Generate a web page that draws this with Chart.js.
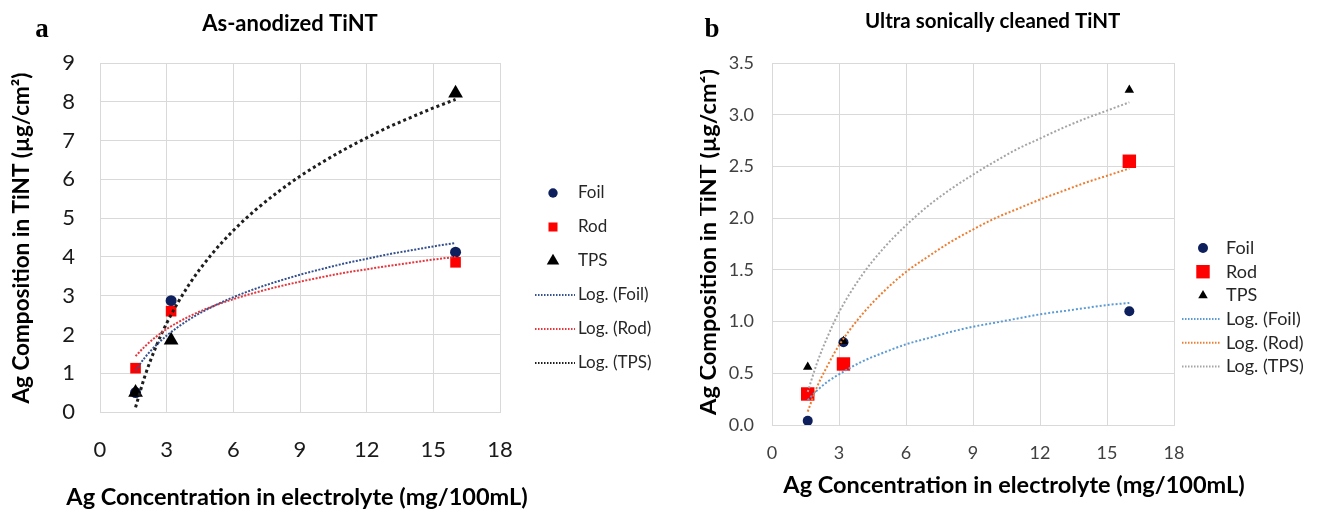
<!DOCTYPE html>
<html>
<head>
<meta charset="utf-8">
<script src="https://cdn.jsdelivr.net/npm/chart.js@4.4.1/dist/chart.umd.min.js"></script>
<style>
    body { margin: 0; background: #fff; width: 1317px; height: 513px; position: relative; overflow: hidden; }
    #panel-a { position: absolute; left: 0; top: 0; }
    #panel-b { position: absolute; left: 700px; top: 0; }
</style>
</head>
<body>
<canvas id="panel-a" width="700" height="513"></canvas>
<canvas id="panel-b" width="617" height="513"></canvas>
<script>
// Ag concentration in electrolyte (mg/100mL)
const concentration = [1.6, 3.2, 16];

// a: as-anodized TiNT
const anodizedFoil = [0.5, 2.87, 4.12];
const anodizedRod = [1.13, 2.6, 3.86];
const anodizedTps = [0.5, 1.85, 8.22];

// b: ultrasonically cleaned TiNT
const cleanedFoil = [0.04, 0.8, 1.1];
const cleanedRod = [0.3, 0.59, 2.55];
const cleanedTps = [0.56, 0.81, 3.24];

// log trendlines at these x positions
const trendX = [1.6, 2, 2.5, 3, 4, 5, 6, 7, 8, 9, 10, 11, 12, 13, 14, 15, 16];
const anodizedFoilLog = [1.07, 1.39, 1.71, 1.97, 2.38, 2.70, 2.96, 3.18, 3.37, 3.54, 3.69, 3.83, 3.95, 4.07, 4.17, 4.27, 4.36];
const anodizedRodLog = [1.44, 1.68, 1.93, 2.14, 2.46, 2.71, 2.91, 3.08, 3.23, 3.36, 3.48, 3.59, 3.68, 3.77, 3.85, 3.93, 4.00];
const anodizedTpsLog = [0.12, 0.89, 1.66, 2.29, 3.28, 4.05, 4.68, 5.21, 5.67, 6.08, 6.44, 6.77, 7.07, 7.35, 7.60, 7.84, 8.06];
const cleanedFoilLog = [0.24, 0.33, 0.42, 0.49, 0.61, 0.70, 0.78, 0.84, 0.90, 0.95, 0.99, 1.03, 1.07, 1.10, 1.13, 1.16, 1.18];
const cleanedRodLog = [0.13, 0.36, 0.58, 0.77, 1.06, 1.29, 1.48, 1.63, 1.77, 1.89, 2.00, 2.09, 2.18, 2.26, 2.34, 2.41, 2.48];
const cleanedTpsLog = [0.32, 0.59, 0.86, 1.09, 1.44, 1.71, 1.93, 2.12, 2.28, 2.42, 2.55, 2.67, 2.77, 2.87, 2.96, 3.04, 3.12];

const xTicks = [0, 3, 6, 9, 12, 15, 18];
const yTicksA = [0, 1, 2, 3, 4, 5, 6, 7, 8, 9];
const yTicksB = [0, 0.5, 1, 1.5, 2, 2.5, 3, 3.5];

const yTitle = 'Ag Composition in TiNT (µg/cm²)';
const xTitle = 'Ag Concentration in electrolyte (mg/100mL)';

const toPoints = (xs, ys) => xs.map((x, i) => ({ x, y: ys[i] }));

function marker(label, ys, style, radius, color, order) {
    return {
        label, data: toPoints(concentration, ys), showLine: false,
        pointStyle: style, pointRadius: radius, pointBackgroundColor: color,
        backgroundColor: color, pointBorderWidth: 0, order
    };
}

function trend(label, ys, color, width, dash) {
    return {
        label, data: toPoints(trendX, ys), showLine: true, pointRadius: 0,
        borderColor: color, borderWidth: width, borderDash: dash,
        cubicInterpolationMode: 'monotone', order: 0
    };
}

// legend on the right, drawn from the datasets themselves
const sideLegend = {
    id: 'sideLegend',
    afterDraw(chart, args, opts) {
        const ctx = chart.ctx;
        ctx.save();
        ctx.font = opts.font;
        ctx.textBaseline = 'middle';
        chart.data.datasets.forEach((ds, i) => {
            const y = opts.top + i * opts.gap;
            if (ds.showLine) {
                ctx.strokeStyle = ds.borderColor;
                ctx.lineWidth = Math.min(ds.borderWidth, 2);
                ctx.setLineDash([1.5, 1.5]);
                ctx.beginPath();
                ctx.moveTo(opts.lineFrom, y);
                ctx.lineTo(opts.lineTo, y);
                ctx.stroke();
                ctx.setLineDash([]);
            } else {
                ctx.fillStyle = ds.backgroundColor;
                Chart.helpers.drawPoint(ctx, {
                    pointStyle: ds.pointStyle, rotation: 0, borderWidth: 0,
                    radius: ds.pointRadius * opts.markerScale
                }, opts.markerX, y);
            }
            ctx.fillStyle = '#262626';
            ctx.fillText(ds.label, opts.textX, y);
        });
        ctx.restore();
    }
};

const panelText = {
    id: 'panelText',
    afterDraw(chart, args, opts) {
        const ctx = chart.ctx;
        opts.items.forEach(t => {
            ctx.save();
            ctx.font = t.font;
            ctx.fillStyle = '#000';
            ctx.textAlign = t.align || 'center';
            ctx.textBaseline = 'middle';
            ctx.translate(t.x, t.y);
            if (t.rotate) ctx.rotate(t.rotate);
            ctx.fillText(t.text, 0, 0);
            ctx.restore();
        });
    }
};

function buildOptions(cfg) {
    return {
        responsive: false,
        animation: false,
        layout: { padding: { top: 63, right: cfg.rightPad, left: 0, bottom: 0 } },
        plugins: {
            legend: { display: false },
            tooltip: { enabled: false },
            sideLegend: cfg.legend,
            panelText: { items: cfg.texts }
        },
        scales: {
            x: {
                type: 'linear', min: 0, max: 18,
                afterBuildTicks: s => { s.ticks = xTicks.map(v => ({ value: v })); },
                afterFit: s => { s.height = cfg.xAxisHeight; },
                grid: { color: '#d9d9d9', drawTicks: false },
                border: { color: '#d9d9d9' },
                ticks: { font: { family: 'Lato', size: cfg.tickSize }, color: cfg.tickColor, padding: cfg.xTickPad, maxRotation: 0 }
            },
            y: {
                type: 'linear', min: 0, max: cfg.yMax,
                afterBuildTicks: s => { s.ticks = cfg.yTicks.map(v => ({ value: v })); },
                afterFit: s => { s.width = cfg.yAxisWidth; },
                grid: { color: '#d9d9d9', drawTicks: false },
                border: { color: '#d9d9d9' },
                ticks: {
                    font: { family: 'Lato', size: cfg.tickSize }, color: cfg.tickColor, padding: cfg.yTickPad,
                    callback: v => cfg.yDecimals ? v.toFixed(cfg.yDecimals) : String(v)
                }
            }
        }
    };
}

new Chart(document.getElementById('panel-a'), {
    type: 'scatter',
    data: {
        datasets: [
            marker('Foil', anodizedFoil, 'circle', 5.5, '#0d1f5c', 3),
            marker('Rod', anodizedRod, 'rect', 7.5, '#ff0000', 2),
            marker('TPS', anodizedTps, 'triangle', 8.5, '#000000', 1),
            trend('Log. (Foil)', anodizedFoilLog, '#34508f', 2, [2, 1.5]),
            trend('Log. (Rod)', anodizedRodLog, '#e8343a', 2, [2, 1.5]),
            trend('Log. (TPS)', anodizedTpsLog, '#1e1e1e', 3, [3, 3])
        ]
    },
    options: buildOptions({
        rightPad: 200, xAxisHeight: 101, yAxisWidth: 100, yMax: 9, yTicks: yTicksA, yDecimals: 0,
        tickSize: 22, tickColor: '#1a1a1a', xTickPad: 25, yTickPad: 25,
        legend: { font: '17px Lato', top: 193, gap: 34, markerX: 553, textX: 578, lineFrom: 535, lineTo: 575, markerScale: 0.85 },
        texts: [
            { text: 'a', font: 'bold 27px "Liberation Serif"', x: 42, y: 30 },
            { text: 'As-anodized TiNT', font: 'bold 22px Lato', x: 290, y: 24 },
            { text: yTitle, font: 'bold 22.5px Lato', x: 22, y: 238, rotate: -Math.PI / 2 },
            { text: xTitle, font: 'bold 23.5px Lato', x: 297, y: 497 }
        ]
    }),
    plugins: [sideLegend, panelText]
});

new Chart(document.getElementById('panel-b'), {
    type: 'scatter',
    data: {
        datasets: [
            marker('Foil', cleanedFoil, 'circle', 5, '#0d1f5c', 3),
            marker('Rod', cleanedRod, 'rect', 9.5, '#ff0000', 2),
            marker('TPS', cleanedTps, 'triangle', 5.5, '#000000', 1),
            trend('Log. (Foil)', cleanedFoilLog, '#5b9bd5', 2, [2, 2]),
            trend('Log. (Rod)', cleanedRodLog, '#ed7d31', 2, [2, 2]),
            trend('Log. (TPS)', cleanedTpsLog, '#a5a5a5', 2, [2, 2])
        ]
    },
    options: buildOptions({
        rightPad: 143, xAxisHeight: 88, yAxisWidth: 72, yMax: 3.5, yTicks: yTicksB, yDecimals: 1,
        tickSize: 18, tickColor: '#404040', xTickPad: 17, yTickPad: 18,
        legend: { font: '18px Lato', top: 248, gap: 23.7, markerX: 503, textX: 526, lineFrom: 482, lineTo: 521, markerScale: 1 },
        texts: [
            { text: 'b', font: 'bold 27px "Liberation Serif"', x: 12, y: 30 },
            { text: 'Ultra sonically cleaned TiNT', font: 'bold 20.5px Lato', x: 165, y: 21, align: 'left' },
            { text: yTitle, font: 'bold 23.5px Lato', x: 8, y: 242, rotate: -Math.PI / 2 },
            { text: xTitle, font: 'bold 23.5px Lato', x: 314, y: 485 }
        ]
    }),
    plugins: [sideLegend, panelText]
});
</script>
</body>
</html>
